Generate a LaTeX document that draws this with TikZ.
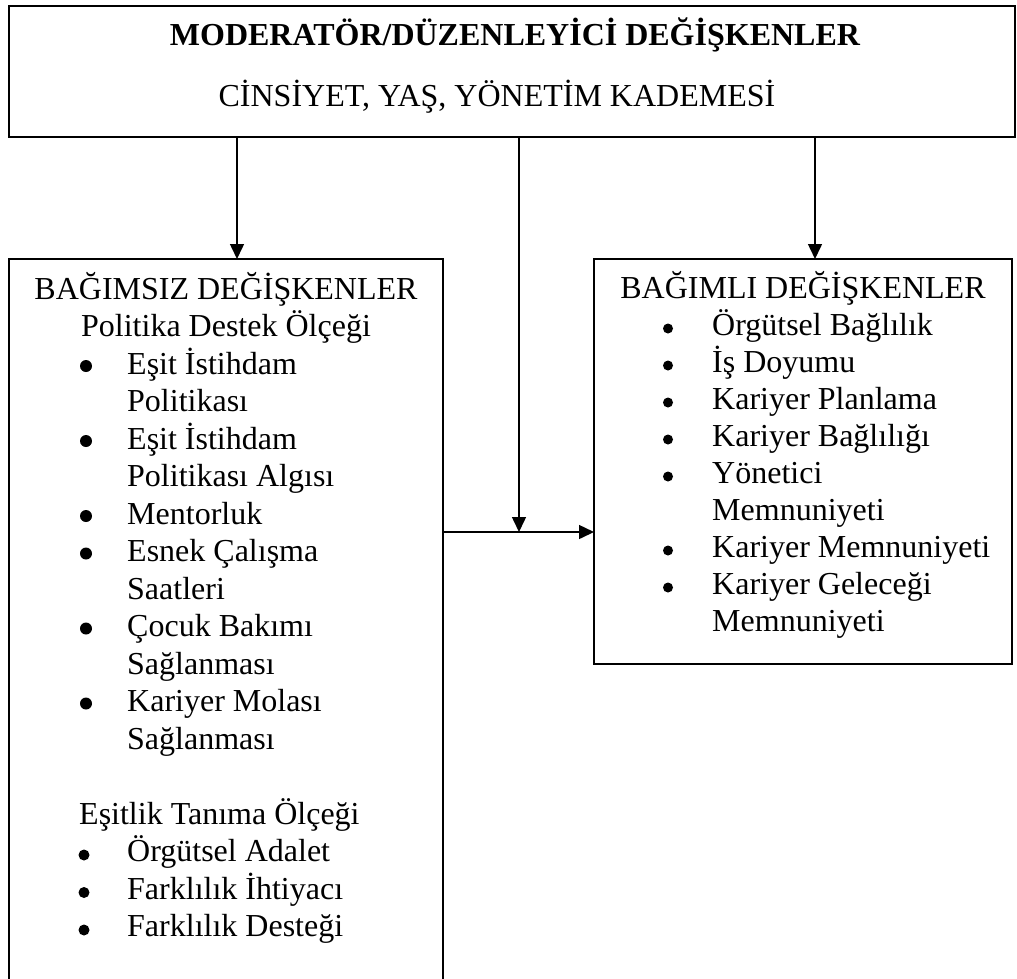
\documentclass[tikz,border=0pt]{standalone}
\usepackage{fontspec}
\setmainfont{Liberation Serif}
\usetikzlibrary{arrows.meta}

\tikzset{
  box/.style={draw, line width=2pt, inner sep=0pt, outer sep=0pt, anchor=north west},
  conn/.style={line width=1.5pt, -{Triangle[length=15pt,width=14pt]}},
  txt/.style={inner sep=0pt, font=\fontsize{32}{37}\selectfont},
  dot/.style={circle, fill=black, inner sep=0pt, minimum size=#1},
  dot/.default=11pt
}

\begin{document}
\begin{tikzpicture}[x=1pt,y=-1pt]
    \useasboundingbox (0,0) rectangle (1017,978);
    % boxes
    \node(mod)[box, minimum width=1006pt, minimum height=131pt] at (9,6) {};
    \node(indep)[box, minimum width=434pt, minimum height=740pt] at (9,259) {};
    \node(dep)[box, minimum width=418pt, minimum height=405pt] at (594,259) {};
    % moderator box
    \node(modtitle)[txt, anchor=base, font=\fontsize{32}{37}\selectfont\bfseries] at (515,45) {MODERATÖR/DÜZENLEYİCİ DEĞİŞKENLER};
    \node(modvars)[txt, anchor=base] at (497,106) {CİNSİYET, YAŞ, YÖNETİM KADEMESİ};
    % independent box
    \node(indtitle)[txt, anchor=base] at (226,299) {BAĞIMSIZ DEĞİŞKENLER};
    \node(indsub)[txt, anchor=base] at (226,336.5) {Politika Destek Ölçeği};
    \foreach \m/\lbl [count=\i from 0] in {1/Eşit İstihdam, 0/Politikası, 1/Eşit İstihdam, 0/Politikası Algısı, 1/Mentorluk, 1/Esnek Çalışma, 0/Saatleri, 1/Çocuk Bakımı, 0/Sağlanması, 1/Kariyer Molası, 0/Sağlanması}{
        \node(ind\i)[txt, anchor=base west] at (127,{374+37.5*\i}) {\lbl};
        \ifnum\m=1 \node(indb\i)[dot=12pt] at (86,{366+37.5*\i}) {}; \fi
    }
    \node(eqsub)[txt, anchor=base west] at (79,824) {Eşitlik Tanıma Ölçeği};
    \foreach \lbl [count=\i from 0] in {Örgütsel Adalet, Farklılık İhtiyacı, Farklılık Desteği}{
        \node(eq\i)[txt, anchor=base west] at (127,{861.5+37.5*\i}) {\lbl};
        \node(eqb\i)[dot] at (84,{855+37.5*\i}) {};
    }
    % dependent box
    \node(deptitle)[txt, anchor=base] at (803,298) {BAĞIMLI DEĞİŞKENLER};
    \foreach \m/\lbl [count=\i from 0] in {1/Örgütsel Bağlılık, 1/İş Doyumu, 1/Kariyer Planlama, 1/Kariyer Bağlılığı, 1/Yönetici, 0/Memnuniyeti, 1/Kariyer Memnuniyeti, 1/Kariyer Geleceği, 0/Memnuniyeti}{
        \node(dep\i)[txt, anchor=base west] at (712,{335+37*\i}) {\lbl};
        \ifnum\m=1 \node(depb\i)[dot=10pt] at (668,{328.5+37*\i}) {}; \fi
    }
    % connectors
    \coordinate (ca) at (237,0);
    \coordinate (cb) at (519,532);
    \coordinate (cc) at (815,0);
    \draw[conn] (ca |- mod.south) -- (ca |- indep.north);
    \draw[conn] (cc |- mod.south) -- (cc |- dep.north);
    \draw[conn] (cb |- mod.south) -- (cb);
    \draw[conn] (cb -| indep.east) -- (cb -| dep.west);
\end{tikzpicture}
\end{document}
